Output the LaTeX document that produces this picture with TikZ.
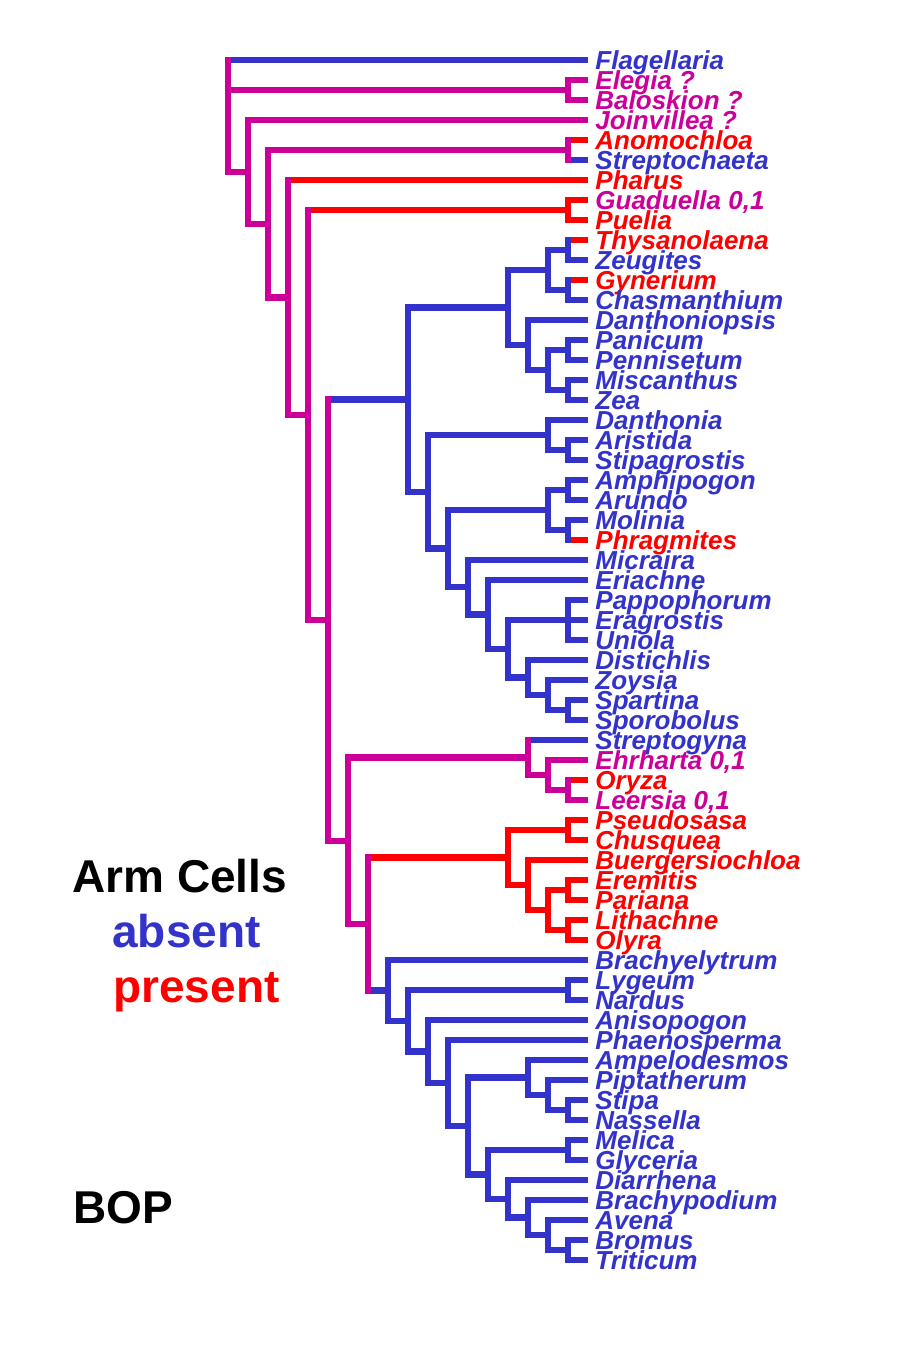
\documentclass[tikz,border=0pt]{standalone}
\usepackage{fontspec}
\setmainfont{Liberation Sans}
\definecolor{armabs}{RGB}{51,51,204}
\definecolor{armpres}{RGB}{255,0,0}
\definecolor{armmix}{RGB}{204,0,153}
\tikzset{
  branch/.style={line width=3.2pt},
  stem/.style={line width=3.2pt, line cap=rect},
  taxon/.style={anchor=base west, inner sep=0pt, yshift=-4.6pt,
    font=\fontsize{13pt}{13pt}\selectfont\bfseries\itshape},
  legend/.style={anchor=base west, inner sep=0pt,
    font=\fontsize{23pt}{23pt}\selectfont\bfseries}
}
\begin{document}
\begin{tikzpicture}[x=10pt, y=-10pt]
    \fill[white] (0,0) rectangle (44.9,67.4);
    \useasboundingbox (0,0) rectangle (44.9,67.4);

    % Tips and their names
    \foreach \n/\r/\c/\t in {flagellaria/3/armabs/Flagellaria, elegia/4/armmix/{Elegia ?},
        baloskion/5/armmix/{Baloskion ?}, joinvillea/6/armmix/{Joinvillea ?},
        anomochloa/7/armpres/Anomochloa, streptochaeta/8/armabs/Streptochaeta,
        pharus/9/armpres/Pharus, guaduella/10/armmix/{Guaduella 0,1}, puelia/11/armpres/Puelia,
        thysanolaena/12/armpres/Thysanolaena, zeugites/13/armabs/Zeugites,
        gynerium/14/armpres/Gynerium, chasmanthium/15/armabs/Chasmanthium,
        danthoniopsis/16/armabs/Danthoniopsis, panicum/17/armabs/Panicum,
        pennisetum/18/armabs/Pennisetum, miscanthus/19/armabs/Miscanthus, zea/20/armabs/Zea,
        danthonia/21/armabs/Danthonia, aristida/22/armabs/Aristida,
        stipagrostis/23/armabs/Stipagrostis, amphipogon/24/armabs/Amphipogon,
        arundo/25/armabs/Arundo, molinia/26/armabs/Molinia, phragmites/27/armpres/Phragmites,
        micraira/28/armabs/Micraira, eriachne/29/armabs/Eriachne,
        pappophorum/30/armabs/Pappophorum, eragrostis/31/armabs/Eragrostis,
        uniola/32/armabs/Uniola, distichlis/33/armabs/Distichlis, zoysia/34/armabs/Zoysia,
        spartina/35/armabs/Spartina, sporobolus/36/armabs/Sporobolus,
        streptogyna/37/armabs/Streptogyna, ehrharta/38/armmix/{Ehrharta 0,1},
        oryza/39/armpres/Oryza, leersia/40/armmix/{Leersia 0,1},
        pseudosasa/41/armpres/Pseudosasa, chusquea/42/armpres/Chusquea,
        buergersiochloa/43/armpres/Buergersiochloa, eremitis/44/armpres/Eremitis,
        pariana/45/armpres/Pariana, lithachne/46/armpres/Lithachne, olyra/47/armpres/Olyra,
        brachyelytrum/48/armabs/Brachyelytrum, lygeum/49/armabs/Lygeum, nardus/50/armabs/Nardus,
        anisopogon/51/armabs/Anisopogon, phaenosperma/52/armabs/Phaenosperma,
        ampelodesmos/53/armabs/Ampelodesmos, piptatherum/54/armabs/Piptatherum,
        stipa/55/armabs/Stipa, nassella/56/armabs/Nassella, melica/57/armabs/Melica,
        glyceria/58/armabs/Glyceria, diarrhena/59/armabs/Diarrhena,
        brachypodium/60/armabs/Brachypodium, avena/61/armabs/Avena, bromus/62/armabs/Bromus,
        triticum/63/armabs/Triticum}
    {
        \coordinate (\n) at (29.4,\r);
        \node[taxon, text=\c] (lab-\n) at (29.75,\r) {\t};
    }

    % Internal nodes: outgroups and early grasses
    \coordinate (root) at (11.4,3);
    \coordinate (resti) at (28.4,4.5);
    \coordinate (gram) at (12.4,8.6);
    \coordinate (poac) at (13.4,11.19);
    \coordinate (anst) at (28.4,7.5);
    \coordinate (spik) at (14.4,14.88);
    \coordinate (pueC) at (15.4,20.76);
    \coordinate (gupu) at (28.4,10.5);
    \coordinate (core) at (16.4,31.01);
    % PACCMAD
    \coordinate (pacc) at (20.4,19.98);
    \coordinate (cpan) at (25.4,15.375);
    \coordinate (cent) at (27.4,13.5);
    \coordinate (thze) at (28.4,12.5);
    \coordinate (gych) at (28.4,14.5);
    \coordinate (dpan) at (26.4,17.25);
    \coordinate (andr) at (27.4,18.5);
    \coordinate (papn) at (28.4,17.5);
    \coordinate (misz) at (28.4,19.5);
    \coordinate (cmad) at (21.4,24.59);
    \coordinate (arist) at (27.4,21.75);
    \coordinate (arst) at (28.4,22.5);
    \coordinate (arch) at (22.4,27.43);
    \coordinate (arun) at (27.4,25.5);
    \coordinate (amar) at (28.4,24.5);
    \coordinate (moph) at (28.4,26.5);
    \coordinate (chlA) at (23.4,29.36);
    \coordinate (chlB) at (24.4,30.72);
    \coordinate (chlC) at (25.4,32.44);
    \coordinate (erag) at (28.4,31);
    \coordinate (chlD) at (26.4,33.875);
    \coordinate (chlE) at (27.4,34.75);
    \coordinate (spsp) at (28.4,35.5);
    % BOP
    \coordinate (bop) at (17.4,42.04);
    \coordinate (ehrC) at (26.4,37.875);
    \coordinate (oryC) at (27.4,38.75);
    \coordinate (orle) at (28.4,39.5);
    \coordinate (bapo) at (18.4,46.2);
    \coordinate (bamb) at (25.4,42.875);
    \coordinate (psch) at (28.4,41.5);
    \coordinate (bamB) at (26.4,44.25);
    \coordinate (olyC) at (27.4,45.5);
    \coordinate (erpa) at (28.4,44.5);
    \coordinate (lion) at (28.4,46.5);
    \coordinate (pooA) at (19.4,49.52);
    \coordinate (lyna) at (28.4,49.5);
    \coordinate (pooB) at (20.4,51.04);
    \coordinate (pooC) at (21.4,52.575);
    \coordinate (pooD) at (22.4,54.15);
    \coordinate (pooE) at (23.4,56.30);
    \coordinate (stiA) at (26.4,53.875);
    \coordinate (stiB) at (27.4,54.75);
    \coordinate (stna) at (28.4,55.5);
    \coordinate (pooF) at (24.4,58.72);
    \coordinate (megl) at (28.4,57.5);
    \coordinate (pooG) at (25.4,59.94);
    \coordinate (pooH) at (26.4,60.875);
    \coordinate (pooI) at (27.4,61.75);
    \coordinate (brtr) at (28.4,62.5);

    % Horizontal branches: parent / child / colour
    \foreach \p/\k/\c in {root/flagellaria/armabs, root/resti/armmix, root/gram/armmix,
        resti/elegia/armmix, resti/baloskion/armmix, gram/joinvillea/armmix, gram/poac/armmix,
        poac/anst/armmix, poac/spik/armmix, anst/anomochloa/armpres, anst/streptochaeta/armabs,
        spik/pharus/armpres, spik/pueC/armmix, pueC/gupu/armpres, pueC/core/armmix,
        gupu/guaduella/armpres, gupu/puelia/armpres, core/pacc/armabs, core/bop/armmix,
        pacc/cpan/armabs, pacc/cmad/armabs, cpan/cent/armabs, cpan/dpan/armabs,
        cent/thze/armabs, cent/gych/armabs, thze/thysanolaena/armpres, thze/zeugites/armabs,
        gych/gynerium/armpres, gych/chasmanthium/armabs, dpan/danthoniopsis/armabs,
        dpan/andr/armabs, andr/papn/armabs, andr/misz/armabs, papn/panicum/armabs,
        papn/pennisetum/armabs, misz/miscanthus/armabs, misz/zea/armabs,
        cmad/arist/armabs, cmad/arch/armabs, arist/danthonia/armabs, arist/arst/armabs,
        arst/aristida/armabs, arst/stipagrostis/armabs, arch/arun/armabs, arch/chlA/armabs,
        arun/amar/armabs, arun/moph/armabs, amar/amphipogon/armabs, amar/arundo/armabs,
        moph/molinia/armabs, moph/phragmites/armpres, chlA/micraira/armabs, chlA/chlB/armabs,
        chlB/eriachne/armabs, chlB/chlC/armabs, chlC/erag/armabs, chlC/chlD/armabs,
        erag/pappophorum/armabs, erag/eragrostis/armabs, erag/uniola/armabs,
        chlD/distichlis/armabs, chlD/chlE/armabs, chlE/zoysia/armabs, chlE/spsp/armabs,
        spsp/spartina/armabs, spsp/sporobolus/armabs,
        bop/ehrC/armmix, bop/bapo/armmix, ehrC/streptogyna/armabs, ehrC/oryC/armmix,
        oryC/ehrharta/armmix, oryC/orle/armmix, orle/oryza/armpres, orle/leersia/armmix,
        bapo/bamb/armpres, bapo/pooA/armabs, bamb/psch/armpres, bamb/bamB/armpres,
        psch/pseudosasa/armpres, psch/chusquea/armpres, bamB/buergersiochloa/armpres,
        bamB/olyC/armpres, olyC/erpa/armpres, olyC/lion/armpres, erpa/eremitis/armpres,
        erpa/pariana/armpres, lion/lithachne/armpres, lion/olyra/armpres,
        pooA/brachyelytrum/armabs, pooA/pooB/armabs, pooB/lyna/armabs, pooB/pooC/armabs,
        lyna/lygeum/armabs, lyna/nardus/armabs, pooC/anisopogon/armabs, pooC/pooD/armabs,
        pooD/phaenosperma/armabs, pooD/pooE/armabs, pooE/stiA/armabs, pooE/pooF/armabs,
        stiA/ampelodesmos/armabs, stiA/stiB/armabs, stiB/piptatherum/armabs, stiB/stna/armabs,
        stna/stipa/armabs, stna/nassella/armabs, pooF/megl/armabs, pooF/pooG/armabs,
        megl/melica/armabs, megl/glyceria/armabs, pooG/diarrhena/armabs, pooG/pooH/armabs,
        pooH/brachypodium/armabs, pooH/pooI/armabs, pooI/avena/armabs, pooI/brtr/armabs,
        brtr/bromus/armabs, brtr/triticum/armabs}
        \draw[branch, draw=\c] (\p |- \k) -- (\k);

    % Vertical stems: node / first child / last child / colour
    \foreach \n/\a/\b/\c in {root/flagellaria/gram/armmix, resti/elegia/baloskion/armmix,
        gram/joinvillea/poac/armmix, poac/anst/spik/armmix, anst/anomochloa/streptochaeta/armmix,
        spik/pharus/pueC/armmix, pueC/gupu/core/armmix, gupu/guaduella/puelia/armpres,
        core/pacc/bop/armmix, pacc/cpan/cmad/armabs, cpan/cent/dpan/armabs,
        cent/thze/gych/armabs, thze/thysanolaena/zeugites/armabs,
        gych/gynerium/chasmanthium/armabs, dpan/danthoniopsis/andr/armabs,
        andr/papn/misz/armabs, papn/panicum/pennisetum/armabs, misz/miscanthus/zea/armabs,
        cmad/arist/arch/armabs, arist/danthonia/arst/armabs, arst/aristida/stipagrostis/armabs,
        arch/arun/chlA/armabs, arun/amar/moph/armabs, amar/amphipogon/arundo/armabs,
        moph/molinia/phragmites/armabs, chlA/micraira/chlB/armabs, chlB/eriachne/chlC/armabs,
        chlC/erag/chlD/armabs, erag/pappophorum/uniola/armabs, chlD/distichlis/chlE/armabs,
        chlE/zoysia/spsp/armabs, spsp/spartina/sporobolus/armabs,
        bop/ehrC/bapo/armmix, ehrC/streptogyna/oryC/armmix, oryC/ehrharta/orle/armmix,
        orle/oryza/leersia/armmix, bapo/bamb/pooA/armmix, bamb/psch/bamB/armpres,
        psch/pseudosasa/chusquea/armpres, bamB/buergersiochloa/olyC/armpres,
        olyC/erpa/lion/armpres, erpa/eremitis/pariana/armpres, lion/lithachne/olyra/armpres,
        pooA/brachyelytrum/pooB/armabs, pooB/lyna/pooC/armabs, lyna/lygeum/nardus/armabs,
        pooC/anisopogon/pooD/armabs, pooD/phaenosperma/pooE/armabs, pooE/stiA/pooF/armabs,
        stiA/ampelodesmos/stiB/armabs, stiB/piptatherum/stna/armabs, stna/stipa/nassella/armabs,
        pooF/megl/pooG/armabs, megl/melica/glyceria/armabs, pooG/diarrhena/pooH/armabs,
        pooH/brachypodium/pooI/armabs, pooI/avena/brtr/armabs, brtr/bromus/triticum/armabs}
        \draw[stem, draw=\c] (\n |- \a) -- (\n |- \b);

    % Legend
    \node[legend, text=black] (armcells) at (3.6,44.6) {Arm Cells};
    \node[legend, text=armabs] (absent) at (5.6,47.35) {absent};
    \node[legend, text=armpres] (present) at (5.65,50.1) {present};
    \node[legend, text=black] (boplab) at (3.65,61.15) {BOP};
\end{tikzpicture}
\end{document}
